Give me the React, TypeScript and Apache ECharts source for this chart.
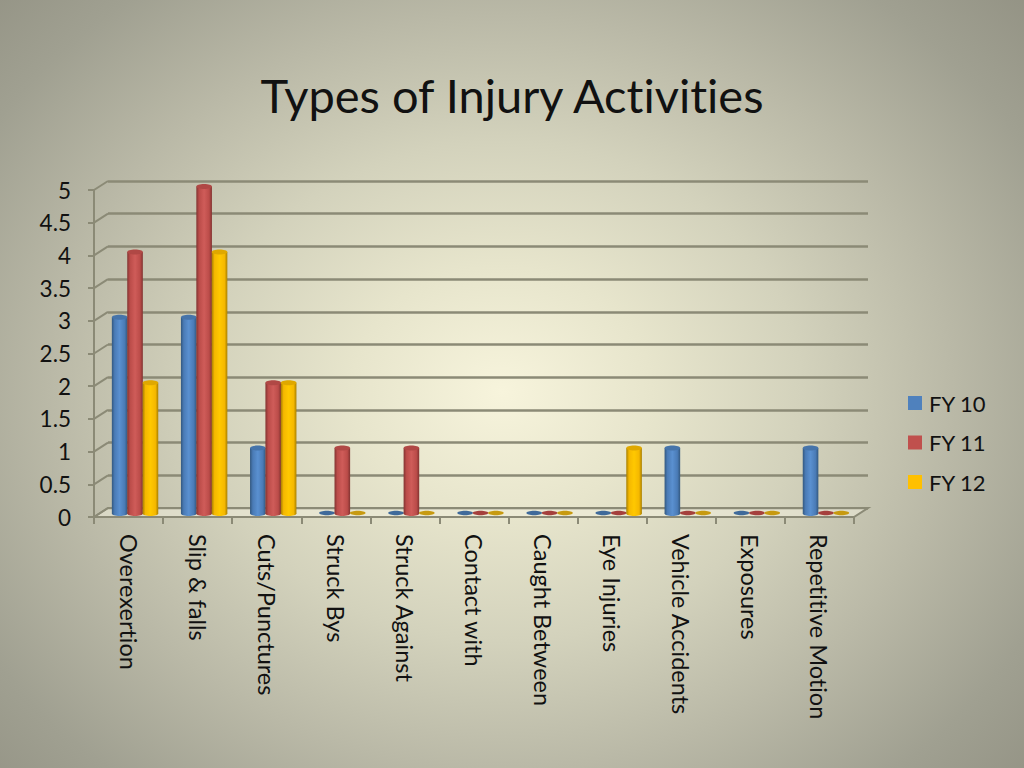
import React, { useEffect, useRef } from "react";
import * as echarts from "echarts";

const categories = ["Overexertion", "Slip & falls", "Cuts/Punctures", "Struck Bys", "Struck Against", "Contact with", "Caught Between", "Eye Injuries", "Vehicle Accidents", "Exposures", "Repetitive Motion"];
const fy10 = [3, 3, 1, 0, 0, 0, 0, 0, 1, 0, 1];
const fy11 = [4, 5, 2, 1, 1, 0, 0, 0, 0, 0, 0];
const fy12 = [2, 4, 2, 0, 0, 0, 0, 1, 0, 0, 0];
const yTicks = [0, 0.5, 1, 1.5, 2, 2.5, 3, 3.5, 4, 4.5, 5];

const DX = 14, DY = -9;
const LINE = "#8b8a76";
const FONT = "Lato, 'Open Sans', sans-serif";

function cylinder(offset: number, edge: string, mid: string, light: string, top: string, flat: string) {
  return (params: any, api: any) => {
    const idx = api.value(0), v = api.value(1);
    const base = api.coord([idx, 0]);
    const tip = api.coord([idx, v]);
    const w = 15.6;
    const cx = base[0] + 6.5 + offset * 15.4;
    const yb = base[1] - 3.5;
    const yt = tip[1] - 3.5;
    const x0 = cx - w / 2;
    if (v === 0) {
      return { type: "ellipse", shape: { cx, cy: yb - 0.5, rx: w / 2, ry: 2.2 }, style: { fill: flat } };
    }
    const grad = new echarts.graphic.LinearGradient(0, 0, 1, 0, [
      { offset: 0, color: edge },
      { offset: 0.18, color: mid },
      { offset: 0.5, color: light },
      { offset: 0.82, color: mid },
      { offset: 1, color: edge },
    ]);
    return {
      type: "group",
      children: [
        { type: "ellipse", shape: { cx, cy: yb, rx: w / 2, ry: 2.5 }, style: { fill: grad } },
        { type: "rect", shape: { x: x0, y: yt, width: w, height: yb - yt }, style: { fill: grad } },
        { type: "ellipse", shape: { cx, cy: yt, rx: w / 2, ry: 2.5 }, style: { fill: top } },
      ],
    };
  };
}

function frame(params: any, api: any) {
  const v = api.value(0);
  const g = params.coordSys;
  const y = api.coord([0, v])[1];
  const children: any[] = [];
  if (v === 0) {
    children.push({
      type: "polygon",
      shape: { points: [[g.x, y], [g.x + DX, y + DY], [g.x + g.width + DX, y + DY], [g.x + g.width, y]] },
      style: { fill: "rgba(240,238,220,0.55)", stroke: LINE, lineWidth: 2 },
    });
  }
  children.push({
    type: "line",
    shape: { x1: g.x, y1: y, x2: g.x + DX, y2: y + DY },
    style: { stroke: LINE, lineWidth: 2 },
  });
  return { type: "group", children };
}

const pair = (a: number[]) => a.map((v, i) => [i, v]);

export default function App() {
  const ref = useRef<HTMLDivElement>(null);
  useEffect(() => {
    const chart = echarts.init(ref.current!, undefined, { renderer: "svg" });
    const custom = (name: string, data: number[], color: string, render: any) => ({
      name,
      type: "custom",
      xAxisIndex: 0,
      yAxisIndex: 0,
      clip: false,
      z: 5,
      itemStyle: { color },
      encode: { x: 0, y: 1 },
      data: pair(data),
      renderItem: render,
    });
    chart.setOption({
      animation: false,
      backgroundColor: "transparent",
      title: {
        text: "Types of Injury Activities",
        left: 507,
        top: 66,
        textAlign: "center",
        textStyle: { fontFamily: FONT, fontSize: 47, fontWeight: "normal", color: "#111" },
      },
      legend: {
        orient: "vertical",
        left: 908,
        top: 392,
        padding: 0,
        itemWidth: 14,
        itemHeight: 14,
        itemGap: 17.5,
        icon: "rect",
        data: ["FY 10", "FY 11", "FY 12"],
        textStyle: { fontFamily: FONT, fontSize: 22, color: "#111", padding: [0, 0, 0, 2] },
      },
      grid: [
        { left: 94, top: 190, width: 760, height: 327 },
        { left: 108, top: 181, width: 760, height: 327 },
      ],
      xAxis: [
        {
          type: "category",
          gridIndex: 0,
          data: categories,
          axisLine: { show: false },
          axisTick: { show: true, length: 7, inside: false, alignWithLabel: false, lineStyle: { color: LINE, width: 2 } },
          axisLabel: { rotate: -90, margin: 17, interval: 0, fontFamily: FONT, fontSize: 23.5, color: "#111" },
        },
        { type: "category", gridIndex: 1, data: categories, show: false },
      ],
      yAxis: [
        {
          type: "value",
          gridIndex: 0,
          min: 0,
          max: 5,
          interval: 0.5,
          splitLine: { show: false },
          axisLine: { show: true, lineStyle: { color: LINE, width: 2 } },
          axisTick: { show: true, length: 6, lineStyle: { color: LINE, width: 2 } },
          axisLabel: { margin: 23, fontFamily: FONT, fontSize: 22.5, color: "#111" },
        },
        {
          type: "value",
          gridIndex: 1,
          min: 0,
          max: 5,
          interval: 0.5,
          axisLine: { show: false },
          axisTick: { show: false },
          axisLabel: { show: false },
          splitLine: { show: true, lineStyle: { color: LINE, width: 2.5 } },
        },
      ],
      series: [
        {
          type: "custom",
          name: "frame",
          xAxisIndex: 0,
          yAxisIndex: 0,
          clip: false,
          z: 1,
          encode: { y: 0 },
          data: yTicks.map((v) => [v]),
          renderItem: frame,
        },
        custom("FY 10", fy10, "#4f81bd", cylinder(-1, "#33587f", "#4a7bb6", "#5a90d0", "#4674aa", "#3f6a9a")),
        custom("FY 11", fy11, "#c0504d", cylinder(0, "#823331", "#bb4c49", "#cf5c59", "#b04845", "#a5403d")),
        custom("FY 12", fy12, "#ffc000", cylinder(1, "#a87f00", "#f5b800", "#ffc800", "#dfa800", "#c79a10")),
      ],
    });
    return () => chart.dispose();
  }, []);
  return (
    <div
      style={{
        position: "absolute",
        left: 0,
        top: 0,
        width: 1024,
        height: 768,
        fontVariantLigatures: "none",
        background: "radial-gradient(600px 500px at 49% 51%, #f7f4dc 0%, #e7e5cc 25%, #d3d2bc 50%, #bab9a7 75%, #a0a091 100%, #8f8e80 125%)",
      }}
    >
      <div ref={ref} style={{ width: 1024, height: 768 }} />
    </div>
  );
}
